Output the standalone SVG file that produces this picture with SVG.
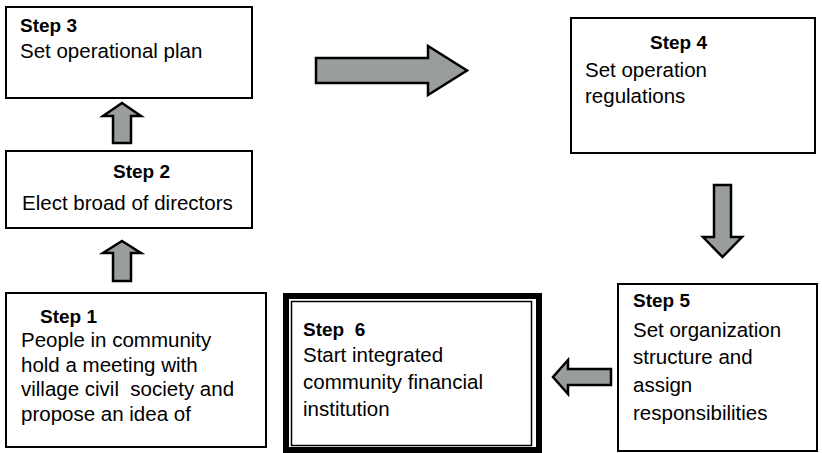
<svg xmlns="http://www.w3.org/2000/svg" width="822" height="453" viewBox="0 0 822 453">
<style>
.box{fill:#fff;stroke:#000;stroke-width:2}
.arr{fill:#9a9d9d;stroke:#000;stroke-width:2.5;stroke-linejoin:miter}
text{font-family:"Liberation Sans",Arial,sans-serif;font-size:20.5px;fill:#000}
.t{font-weight:bold;font-size:19px}
</style>
<rect width="822" height="453" fill="#fff"/>
<g id="step3">
<rect class="box" x="6" y="7" width="246" height="91"/>
<text class="t" x="20" y="32">Step 3</text>
<text x="20" y="58">Set operational plan</text>
</g>
<g id="step2">
<rect class="box" x="6" y="151" width="246" height="77"/>
<text class="t" x="113" y="178">Step 2</text>
<text x="22" y="210">Elect broad of directors</text>
</g>
<g id="step1">
<rect class="box" x="6" y="293" width="260" height="154"/>
<text class="t" x="40" y="323">Step 1</text>
<text x="21" y="347">People in community</text>
<text x="21" y="372">hold a meeting with</text>
<text x="21" y="396">village civil&#160; society and</text>
<text x="21" y="421">propose an idea of</text>
</g>
<g id="step4">
<rect class="box" x="571" y="18" width="244" height="135"/>
<text class="t" x="650" y="49">Step 4</text>
<text x="585" y="77">Set operation</text>
<text x="585" y="103">regulations</text>
</g>
<g id="step5">
<rect class="box" x="618" y="284" width="199" height="167"/>
<text class="t" x="633" y="307">Step 5</text>
<text x="633" y="337">Set organization</text>
<text x="633" y="364">structure and</text>
<text x="633" y="392">assign</text>
<text x="633" y="420">responsibilities</text>
</g>
<g id="step6">
<rect x="286" y="296" width="253" height="154" fill="#fff" stroke="#000" stroke-width="6"/>
<rect x="291.5" y="301.5" width="240" height="144" fill="none" stroke="#000" stroke-width="1.5"/>
<text class="t" x="303" y="336">Step&#160; 6</text>
<text x="303" y="362">Start integrated</text>
<text x="303" y="389">community financial</text>
<text x="303" y="416">institution</text>
</g>
<g id="connectors">
<polygon class="arr" points="122,103 141,116 131,116 131,143 113,143 113,116 103,116"/>
<polygon class="arr" points="122,241 141,253 131,253 131,281 113,281 113,253 103,253"/>
<polygon class="arr" points="316,58 428,58 428,46 467,70.5 428,95 428,83 316,83"/>
<polygon class="arr" points="714,185 731,185 731,237 742,237 722.5,257 703,237 714,237"/>
<polygon class="arr" points="611,369 568,369 568,360 553,377 568,394 568,385 611,385"/>
</g>
</svg>
